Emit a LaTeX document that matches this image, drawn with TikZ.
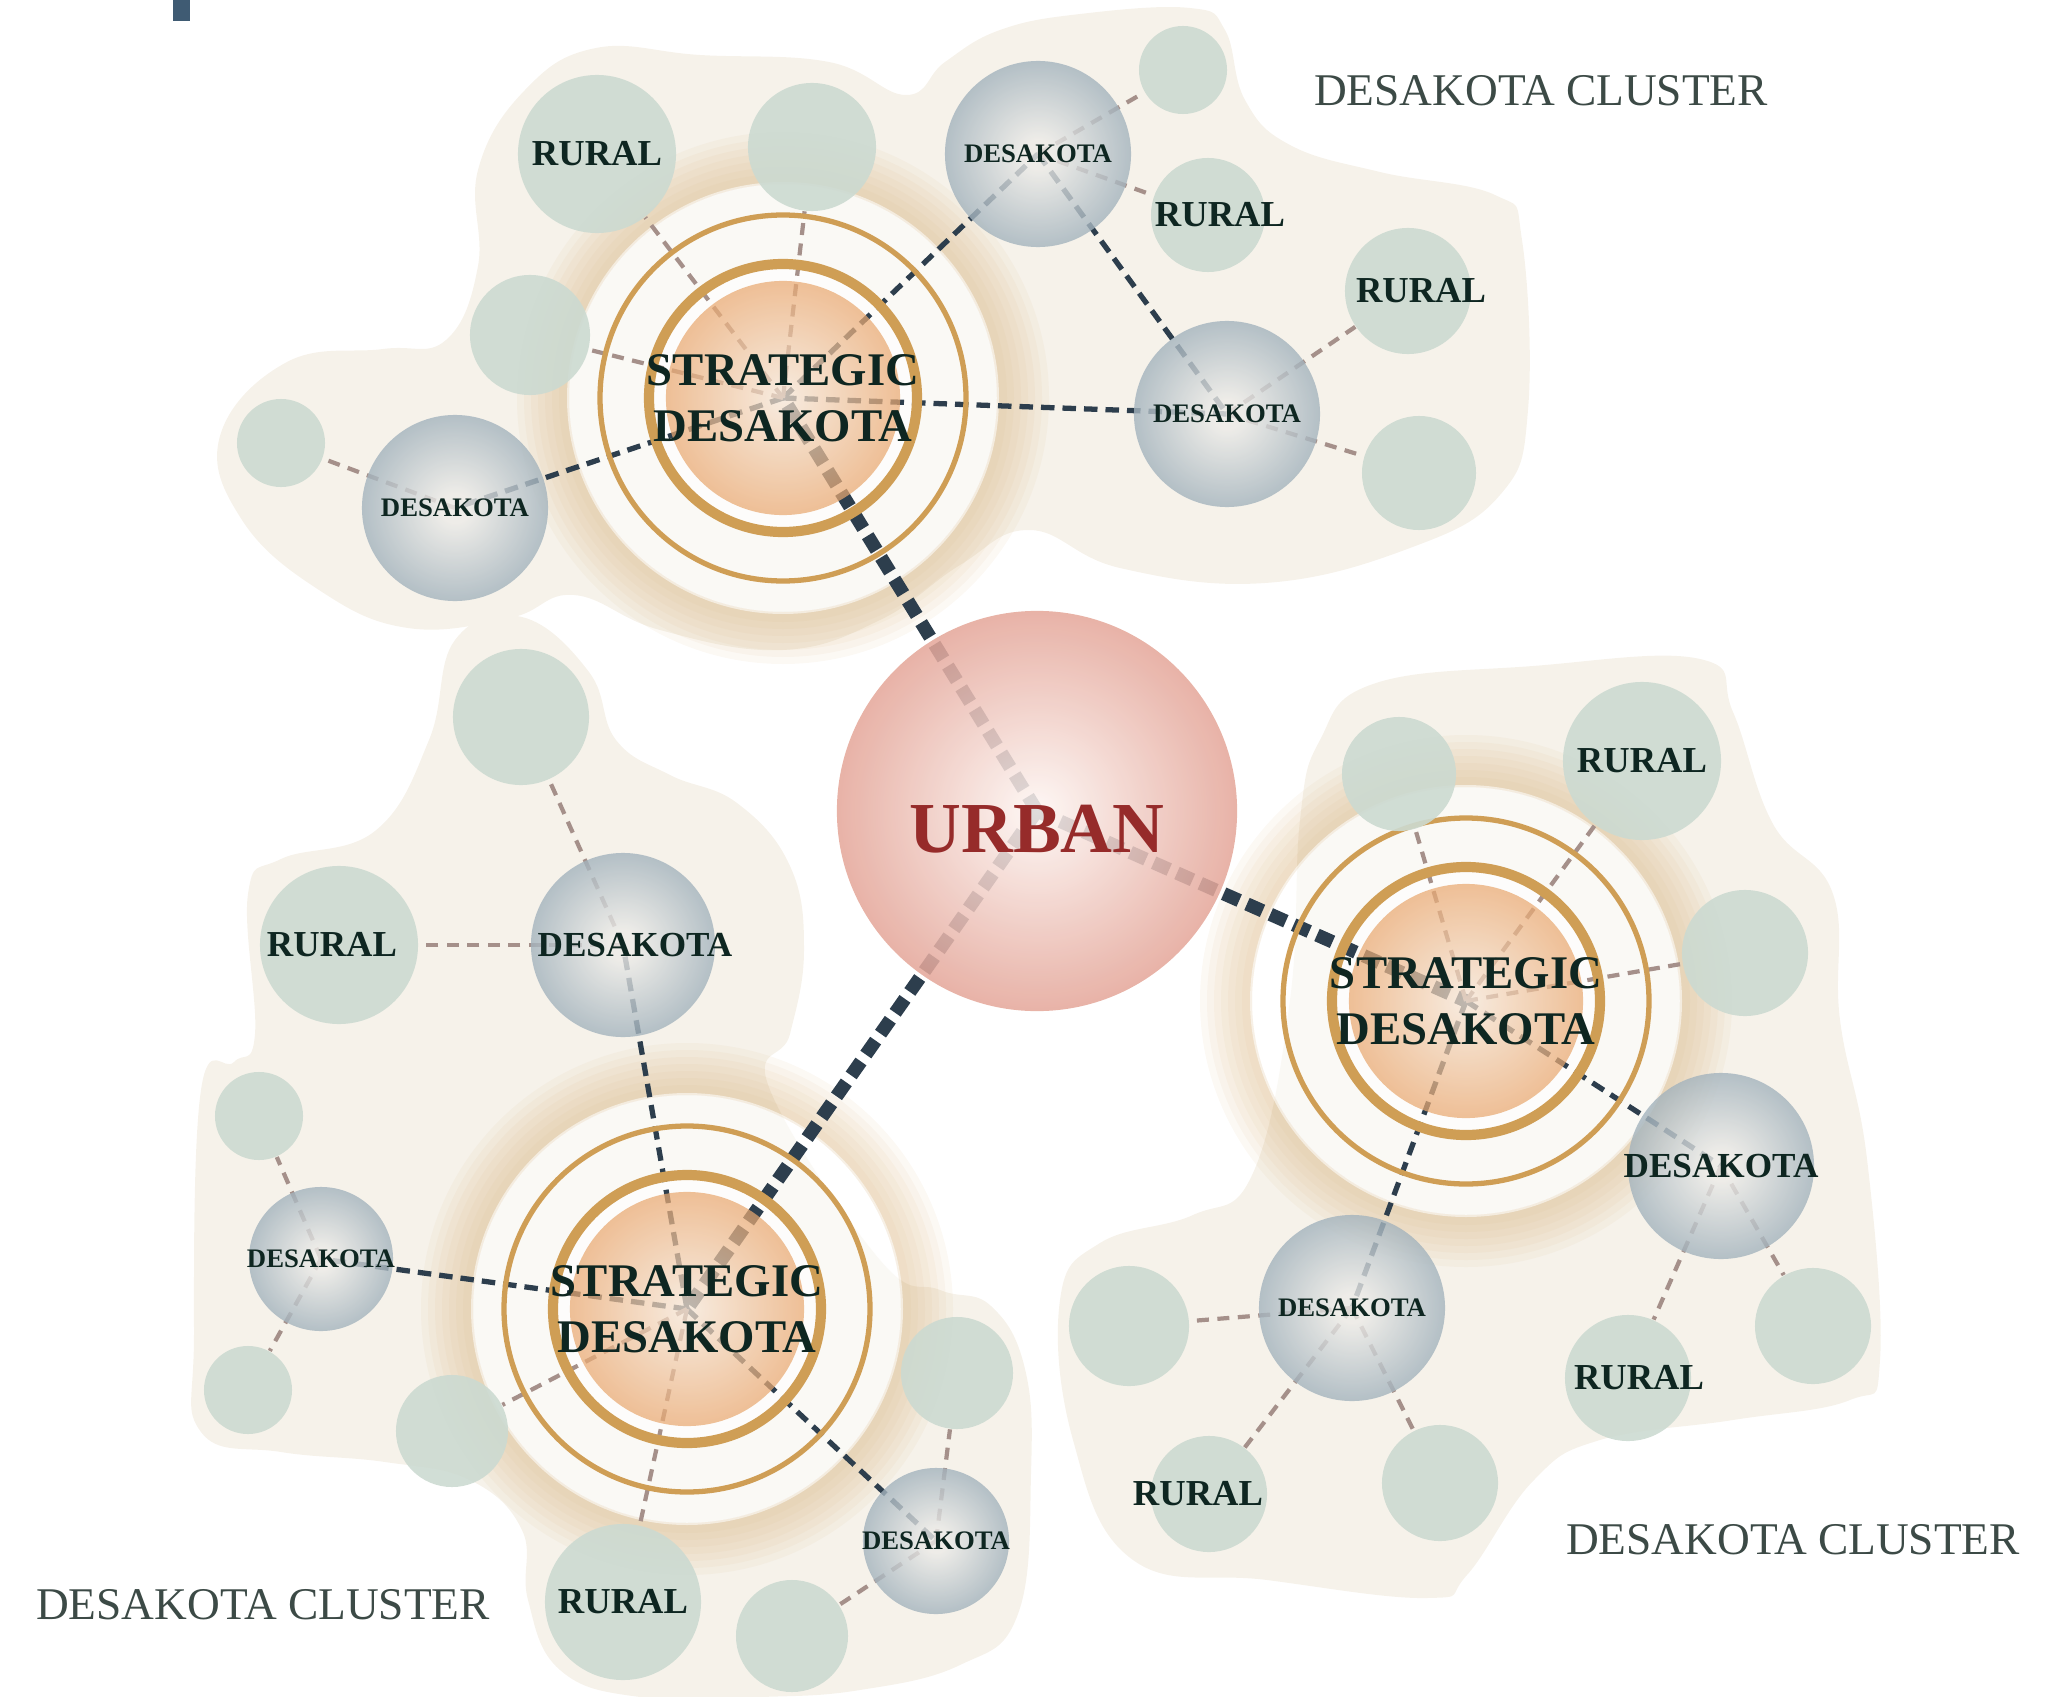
\documentclass[tikz,border=0pt]{standalone}
\usepackage{fontspec}
\setmainfont{Liberation Serif}
\usetikzlibrary{calc}

\definecolor{blobcream}{HTML}{F6F2EA}
\definecolor{sagefill}{HTML}{CCDAD1}
\definecolor{desain}{HTML}{ECEBE8}
\definecolor{desaout}{HTML}{A3B3BD}
\definecolor{stratin}{HTML}{F6E6D6}
\definecolor{stratout}{HTML}{E9A870}
\definecolor{urbanin}{HTML}{FDF6F3}
\definecolor{urbanout}{HTML}{E4A699}
\definecolor{ringgold}{HTML}{CF9E55}
\definecolor{glowtan}{HTML}{DDBB8A}
\definecolor{linkdark}{HTML}{2D3E4D}
\definecolor{linkbrown}{HTML}{A5908A}
\definecolor{nodeink}{HTML}{0E2621}
\definecolor{urbanred}{HTML}{962B2A}
\definecolor{clusterink}{HTML}{3C4A46}
\definecolor{markblue}{HTML}{3F5B73}

\pgfdeclareradialshading{desashade}{\pgfpoint{0bp}{0bp}}{color(0bp)=(desain); color(4bp)=(desain); color(25bp)=(desaout); color(50bp)=(desaout)}
\pgfdeclareradialshading{stratshade}{\pgfpoint{0bp}{0bp}}{color(0bp)=(stratin); color(25bp)=(stratout); color(50bp)=(stratout)}
\pgfdeclareradialshading{urbanshade}{\pgfpoint{0bp}{0bp}}{color(0bp)=(urbanin); color(22bp)=(urbanout!90!white); color(25bp)=(urbanout); color(50bp)=(urbanout)}

\newcommand{\desasmall}{\fontsize{7.6pt}{9pt}\selectfont\bfseries}
\newcommand{\desalarge}{\fontsize{10pt}{12pt}\selectfont\bfseries}
\newcommand{\ruralfont}{\fontsize{10.4pt}{12pt}\selectfont\bfseries}
\newcommand{\stratfont}{\fontsize{13.3pt}{15.9pt}\selectfont\bfseries}
\newcommand{\urbanfont}{\fontsize{20.4pt}{24pt}\selectfont\bfseries}
\newcommand{\clusterfont}{\fontsize{12.9pt}{15pt}\selectfont}
% text that may spill over its circle without growing it
\newcommand{\zw}[1]{\makebox[0pt]{#1}}

\pgfdeclarelayer{blobs}
\pgfdeclarelayer{links}
\pgfdeclarelayer{rings}
\pgfsetlayers{blobs,links,rings,main}

\tikzset{
  blob/.style={fill=blobcream},
  sage/.style={circle, inner sep=0pt, fill=sagefill, fill opacity=.9, text opacity=1,
    text=nodeink, font=\ruralfont, minimum size=#1},
  desa/.style={circle, inner sep=0pt, shading=desashade, fill opacity=.8, text opacity=1,
    text=nodeink, font=\desasmall, minimum size=#1},
  desabig/.style={desa=#1, font=\desalarge},
  strat/.style={circle, inner sep=0pt, shading=stratshade, fill opacity=.72, text opacity=1,
    text=nodeink, font=\stratfont, align=center, minimum size=23.4mm},
  urban/.style={circle, inner sep=0pt, shading=urbanshade, fill opacity=.86, text opacity=1,
    text=urbanred, font=\urbanfont, text height=8.2mm, text depth=0pt, minimum size=40mm},
  cluster/.style={text=clusterink, font=\clusterfont, inner sep=0pt},
  ringthick/.style={draw=ringgold, line width=2.9pt},
  ringthin/.style={draw=ringgold, line width=1.5pt},
  urbanlink/.style={draw=linkdark, line width=3.8pt, dash pattern=on 1.7mm off .85mm},
  desalink/.style={draw=linkdark, line width=1.5pt, dash pattern=on 1.35mm off .8mm},
  rurallink/.style={draw=linkbrown, line width=1.2pt, dash pattern=on 1.2mm off .85mm}
}

\begin{document}
\begin{tikzpicture}[x=0.01cm,y=-0.01cm]
  \useasboundingbox (0,0) rectangle (2045,1697);
  \fill[markblue] (173,0) rectangle (190,21);

  % urban core
  \node[urban] (urban) at (1037,811) {\zw{URBAN}};

  % north cluster
  \node[strat] (nS) at (783,398) {\zw{STRATEGIC}\\\zw{DESAKOTA}};
  \node[sage=15.8mm] (nR1) at (597,154) {\zw{RURAL}};
  \node[sage=12.8mm] (nG1) at (812,147) {};
  \node[sage=12mm] (nG2) at (530,335) {};
  \node[sage=8.8mm] (nG3) at (281,443) {};
  \node[desa=18.6mm] (nD1) at (455,508) {\zw{DESAKOTA}};
  \node[desa=18.6mm] (nD2) at (1038,154) {\zw{DESAKOTA}};
  \node[sage=8.8mm] (nG4) at (1183,70) {};
  \node[sage=11.4mm] (nR2) at (1208,215) {\zw{\hspace*{2.4mm}RURAL}};
  \node[sage=12.6mm] (nR3) at (1408,291) {\zw{\hspace*{2.6mm}RURAL}};
  \node[desa=18.6mm] (nD3) at (1227,414) {\zw{DESAKOTA}};
  \node[sage=11.4mm] (nG5) at (1419,473) {};
  \node[cluster] (nLabel) at (1541,91) {DESAKOTA CLUSTER};

  % east cluster
  \node[strat] (eS) at (1466,1001) {\zw{STRATEGIC}\\\zw{DESAKOTA}};
  \node[sage=11.4mm] (eG1) at (1399,774) {};
  \node[sage=15.8mm] (eR1) at (1642,761) {\zw{RURAL}};
  \node[sage=12.6mm] (eG2) at (1745,953) {};
  \node[desabig=18.6mm] (eD1) at (1721,1166) {\zw{DESAKOTA}};
  \node[sage=11.6mm] (eG3) at (1813,1326) {};
  \node[sage=12.6mm] (eR2) at (1628,1378) {\zw{\hspace*{2.2mm}RURAL}};
  \node[desa=18.6mm] (eD2) at (1352,1308) {\zw{DESAKOTA}};
  \node[sage=12mm] (eG4) at (1129,1326) {};
  \node[sage=11.6mm] (eR3) at (1209,1494) {\zw{RURAL\hspace*{2.2mm}}};
  \node[sage=11.6mm] (eG5) at (1440,1483) {};
  \node[cluster] (eLabel) at (1793,1540) {DESAKOTA CLUSTER};

  % west cluster
  \node[strat] (wS) at (687,1309) {\zw{STRATEGIC}\\\zw{DESAKOTA}};
  \node[sage=13.6mm] (wG1) at (521,717) {};
  \node[sage=15.8mm] (wR1) at (339,945) {\zw{RURAL\hspace*{1.4mm}}};
  \node[desabig=18.4mm] (wD1) at (623,945) {\zw{\hspace*{2.4mm}DESAKOTA}};
  \node[sage=8.8mm] (wG2) at (259,1116) {};
  \node[desa=14.4mm] (wD2) at (321,1259) {\zw{DESAKOTA}};
  \node[sage=8.8mm] (wG3) at (248,1390) {};
  \node[sage=11.2mm] (wG4) at (452,1431) {};
  \node[sage=15.6mm] (wR2) at (623,1602) {\zw{RURAL}};
  \node[sage=11.2mm] (wG5) at (792,1636) {};
  \node[desa=14.6mm] (wD3) at (936,1541) {\zw{DESAKOTA}};
  \node[sage=11.2mm] (wG6) at (957,1373) {};
  \node[cluster] (wLabel) at (263,1605) {DESAKOTA CLUSTER};

  % cream cluster areas and glows
  \begin{pgfonlayer}{blobs}
    \fill[blob] plot[smooth cycle, tension=.7] coordinates {
      (596,48) (700,55) (829,62) (906,95) (945,62) (1000,30) (1080,14)
      (1190,8) (1225,30) (1245,100) (1290,145) (1380,172) (1495,195)
      (1522,240) (1528,410) (1500,495) (1410,548) (1265,583) (1120,568)
      (1030,530) (960,565) (880,620) (782,650) (660,630) (574,595)
      (510,618) (408,628) (319,590) (242,520) (220,436) (287,362)
      (383,349) (446,340) (478,266) (478,170) (525,90)};
    \fill[blob] plot[smooth cycle, tension=.7] coordinates {
      (1320,740) (1373,684) (1533,666) (1700,659) (1733,712) (1773,824)
      (1833,894) (1840,1020) (1867,1159) (1880,1360) (1850,1400)
      (1733,1420) (1600,1440) (1533,1481) (1467,1575) (1427,1598)
      (1267,1580) (1133,1560) (1073,1440) (1060,1300) (1100,1243)
      (1193,1215) (1253,1173) (1290,1000) (1300,820)};
    \fill[blob] plot[smooth cycle, tension=.7] coordinates {
      (455,640) (522,617) (589,672) (616,740) (670,775) (737,803)
      (790,866) (804,950) (790,1034) (770,1090) (880,1260) (940,1290)
      (991,1306) (1025,1369) (1031,1474) (1018,1614) (960,1665)
      (860,1690) (760,1697) (640,1697) (560,1670) (528,1600) (522,1530)
      (470,1480) (385,1462) (281,1452) (201,1432) (194,1334) (201,1090)
      (234,1062) (255,1034) (248,894) (281,859) (375,831) (429,740)};
    \foreach \s in {nS,eS,wS}{
      \foreach \r in {266,259,...,224}
        \fill[glowtan, opacity=.09, even odd rule] (\s.center) circle (\r) circle (214);
      \fill[white, opacity=.55] (\s.center) circle (216);
      \fill[white, opacity=.6] (\s.center) circle (130);
    }
  \end{pgfonlayer}

  % rings round the strategic desakota
  \begin{pgfonlayer}{rings}
    \foreach \s in {nS,eS,wS}{
      \draw[ringthick] (\s.center) circle (134);
      \draw[ringthin] (\s.center) circle (183);
    }
  \end{pgfonlayer}

  % connectors
  \begin{pgfonlayer}{links}
    \foreach \s in {nS,eS,wS}
      \draw[urbanlink] (urban.center) -- (\s.center);
    \foreach \a/\b in {nS/nD1, nS/nD2, nS/nD3, nD2/nD3,
                       eS/eD1, eS/eD2,
                       wS/wD1, wS/wD2, wS/wD3}
      \draw[desalink] (\a.center) -- (\b.center);
    \foreach \a/\b in {nS/nR1, nS/nG1, nS/nG2, nD1/nG3, nD2/nG4, nD2/nR2, nD3/nR3, nD3/nG5,
                       eS/eG1, eS/eR1, eS/eG2, eD1/eG3, eD1/eR2, eD2/eG4, eD2/eR3, eD2/eG5,
                       wD1/wG1, wD1/wR1, wD2/wG2, wD2/wG3, wS/wG4, wS/wR2, wD3/wG5, wD3/wG6}
      \draw[rurallink] (\a.center) -- (\b);
  \end{pgfonlayer}
\end{tikzpicture}
\end{document}
